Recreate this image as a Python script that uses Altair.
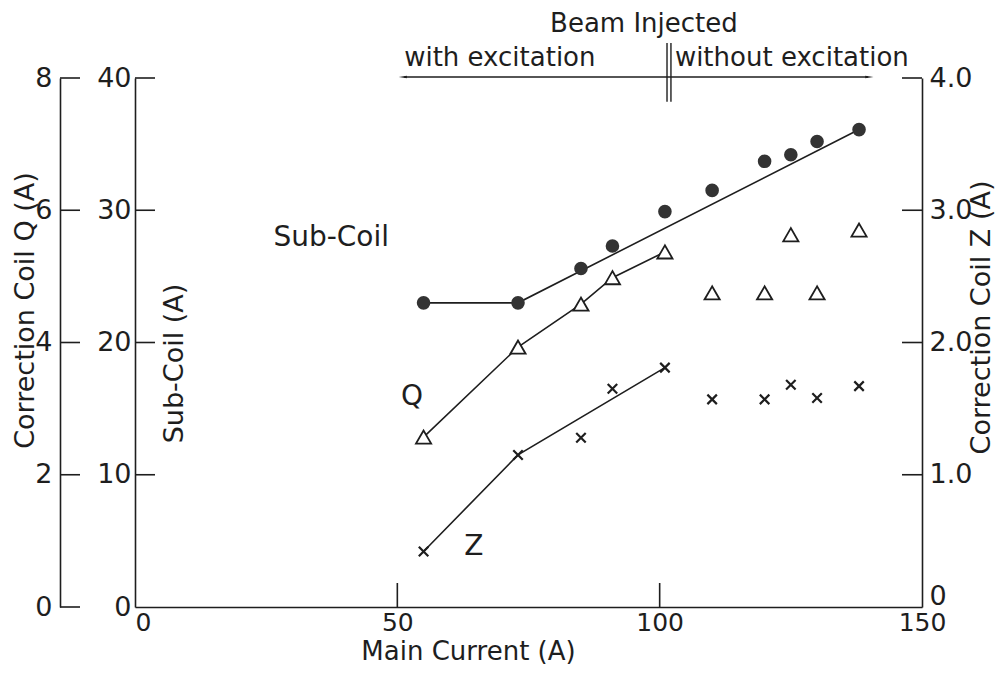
import altair as alt
import pandas as pd

FONT = "DejaVu Sans"
INK = "#1e1e1e"

# ---------------- data ----------------
main_current = [55, 73, 85, 91, 101, 110, 120, 125, 130, 138]
sub_coil = [23.0, 23.0, 25.6, 27.3, 29.9, 31.5, 33.7, 34.2, 35.2, 36.1]
coil_q = [2.57, 3.93, 4.58, 4.98, 5.37, 4.75, 4.75, 5.63, 4.75, 5.70]
coil_z = [0.42, 1.15, 1.28, 1.65, 1.81, 1.57, 1.57, 1.68, 1.58, 1.67]

# hand-drawn guide lines
sub_line_x = [55, 73, 138]
sub_line_y = [23.0, 23.0, 36.1]
q_line_x = [55, 73, 85, 91, 101]
q_line_y = [2.57, 3.93, 4.58, 4.98, 5.37]
z_line_x = [55, 73, 101]
z_line_y = [0.42, 1.15, 1.81]

# axis ticks
x_ticks = [0, 50, 100, 150]
sub_ticks = [0, 10, 20, 30, 40]
q_ticks = [0, 2, 4, 6, 8]
z_ticks = [0, 1, 2, 3, 4]

# annotations (main current, sub-coil units)
label_text = ["Sub-Coil", "Q", "Z"]
label_x = [37.4, 52.8, 64.6]
label_y = [27.9, 15.9, 4.5]

center_text = ["Beam Injected"]
center_x = [97.0]
center_y = [44.05]
left_text = ["with excitation", "without excitation"]
left_x = [51.3, 102.9]
left_y = [41.5, 41.5]

arrow_x = [51.3, 139.7]
arrow_y = [40.08, 40.08]
bar_x = [101.4, 102.15]
bar_y1 = [42.65, 42.65]
bar_y2 = [38.2, 38.2]

W, H = 787, 529

# ---------------- frames ----------------
pts = pd.DataFrame({"x": main_current, "sub": sub_coil, "q": coil_q, "z": coil_z})
sub_line = pd.DataFrame({"x": sub_line_x, "sub": sub_line_y})
q_line = pd.DataFrame({"x": q_line_x, "q": q_line_y})
z_line = pd.DataFrame({"x": z_line_x, "z": z_line_y})
labels = pd.DataFrame({"x": label_x, "sub": label_y, "t": label_text})
ctext = pd.DataFrame({"x": center_x, "sub": center_y, "t": center_text})
ltext = pd.DataFrame({"x": left_x, "sub": left_y, "t": left_text})
arrow = pd.DataFrame({"x": arrow_x, "sub": arrow_y})
arrow_ends = pd.DataFrame({"x": arrow_x, "sub": arrow_y, "ang": [270, 90]})
bars = pd.DataFrame({"x": bar_x, "sub": bar_y1, "sub2": bar_y2})
xt = pd.DataFrame({"x": [v for v in x_ticks if 0 < v < 150]})
st = pd.DataFrame({"v": [v for v in sub_ticks if v > 0]})
qt = pd.DataFrame({"v": q_ticks})
zt = pd.DataFrame({"v": [v for v in z_ticks if v > 0]})

FS = 27
common_axis = dict(
    tickSize=0, grid=False, labelFont=FONT, labelFontSize=FS, labelColor=INK,
    domainColor=INK, domainWidth=1.6, titleFont=FONT, titleFontSize=FS,
    titleFontWeight="normal", titleColor=INK,
)
x_axis_style = dict(common_axis)
x_axis_style["titleFontSize"] = 26
x_axis_style["labelFontSize"] = 25

X = alt.X("x:Q", scale=alt.Scale(domain=[0, 150], nice=False, zero=False),
          axis=alt.Axis(values=x_ticks, labelPadding=3, labelFlush=False,
                        labelOffset={"condition": {"test": "datum.value == 0", "value": 8},
                                     "value": 0},
                        title="Main Current (A)", titleX=333, titleY=44,
                        titleAlign="center", titleBaseline="middle", **x_axis_style))

sub_axis = alt.Axis(orient="left", values=sub_ticks, labelPadding=4,
                    title="Sub-Coil (A)", titleAngle=270, titleX=39, titleY=285,
                    titleAlign="center", titleBaseline="middle", **common_axis)
Ysub = alt.Y("sub:Q", scale=alt.Scale(domain=[0, 40], nice=False, zero=False), axis=sub_axis)
Ysub_t = alt.Y("v:Q", scale=alt.Scale(domain=[0, 40], nice=False, zero=False), axis=sub_axis)

q_axis = alt.Axis(orient="left", offset=75, values=q_ticks, labelPadding=8,
                  title="Correction Coil Q (A)", titleAngle=270, titleX=-35, titleY=232,
                  titleAlign="center", titleBaseline="middle", **common_axis)
Yq = alt.Y("q:Q", scale=alt.Scale(domain=[0, 8], nice=False, zero=False), axis=q_axis)
Yq_t = alt.Y("v:Q", scale=alt.Scale(domain=[0, 8], nice=False, zero=False), axis=q_axis)

z_axis = alt.Axis(orient="right", values=z_ticks, labelPadding=7,
                  labelExpr="datum.value == 0 ? '0' : format(datum.value, '.1f')",
                  labelOffset={"condition": {"test": "datum.value == 0", "value": -11},
                               "value": 0},
                  title="Correction Coil Z (A)", titleAngle=270, titleX=59, titleY=239,
                  titleAlign="center", titleBaseline="middle", **common_axis)
Yz = alt.Y("z:Q", scale=alt.Scale(domain=[0, 4], nice=False, zero=False), axis=z_axis)
Yz_t = alt.Y("v:Q", scale=alt.Scale(domain=[0, 4], nice=False, zero=False), axis=z_axis)

# ---------------- sub-coil group ----------------
g_sub = alt.layer(
    alt.Chart(sub_line).mark_line(color=INK, strokeWidth=1.6).encode(x=X, y=Ysub),
    alt.Chart(pts).mark_point(shape="circle", filled=True, size=185, color="#333333",
                              opacity=1).encode(x=X, y=Ysub),
    alt.Chart(labels).mark_text(font=FONT, fontSize=28, color=INK).encode(
        x=X, y=Ysub, text="t:N"),
    alt.Chart(ctext).mark_text(font=FONT, fontSize=26, color=INK, align="center",
                               baseline="middle").encode(x=X, y=Ysub, text="t:N"),
    alt.Chart(ltext).mark_text(font=FONT, fontSize=26, color=INK, align="left",
                               baseline="middle").encode(x=X, y=Ysub, text="t:N"),
    alt.Chart(arrow).mark_line(color=INK, strokeWidth=1.4).encode(x=X, y=Ysub),
    alt.Chart(arrow_ends).mark_point(shape="wedge", filled=True, size=90, color=INK,
                                     opacity=1).encode(
        x=X, y=Ysub, angle=alt.Angle("ang:Q", scale=None)),
    alt.Chart(bars).mark_rule(color=INK, strokeWidth=1.4).encode(x=X, y=Ysub, y2="sub2:Q"),
    alt.Chart(st).mark_rule(color=INK, strokeWidth=1.6).encode(
        y=Ysub_t, x=alt.value(0), x2=alt.value(20)),
    alt.Chart(xt).mark_rule(color=INK, strokeWidth=1.6).encode(
        x=X, y=alt.value(H), y2=alt.value(H - 24)),
)

# ---------------- Q group ----------------
g_q = alt.layer(
    alt.Chart(q_line).mark_line(color=INK, strokeWidth=1.6).encode(x=X, y=Yq),
    alt.Chart(pts).mark_point(shape="triangle-up", filled=True, fill="white", stroke=INK,
                              strokeWidth=1.8, size=230, opacity=1).encode(x=X, y=Yq),
    alt.Chart(qt).mark_rule(color=INK, strokeWidth=1.6).encode(
        y=Yq_t, x=alt.value(-75), x2=alt.value(-55)),
)

# ---------------- Z group ----------------
g_z = alt.layer(
    alt.Chart(z_line).mark_line(color=INK, strokeWidth=1.6).encode(x=X, y=Yz),
    alt.Chart(pts).mark_point(shape="M-1,-1L1,1M1,-1L-1,1", filled=False, stroke=INK,
                              strokeWidth=2.2, size=90, opacity=1).encode(x=X, y=Yz),
    alt.Chart(zt).mark_rule(color=INK, strokeWidth=1.6).encode(
        y=Yz_t, x=alt.value(W - 20), x2=alt.value(W)),
)

chart = alt.layer(g_sub, g_q, g_z).resolve_scale(y="independent").resolve_axis(
    y="independent"
).properties(
    width=W, height=H,
    autosize=alt.AutoSizeParams(type="none"),
    padding={"left": 127, "top": 70, "right": 73, "bottom": 60},
    background="white",
).configure_view(stroke=None)

chart.save("out.html", embed_options={"renderer": "svg", "actions": False})
